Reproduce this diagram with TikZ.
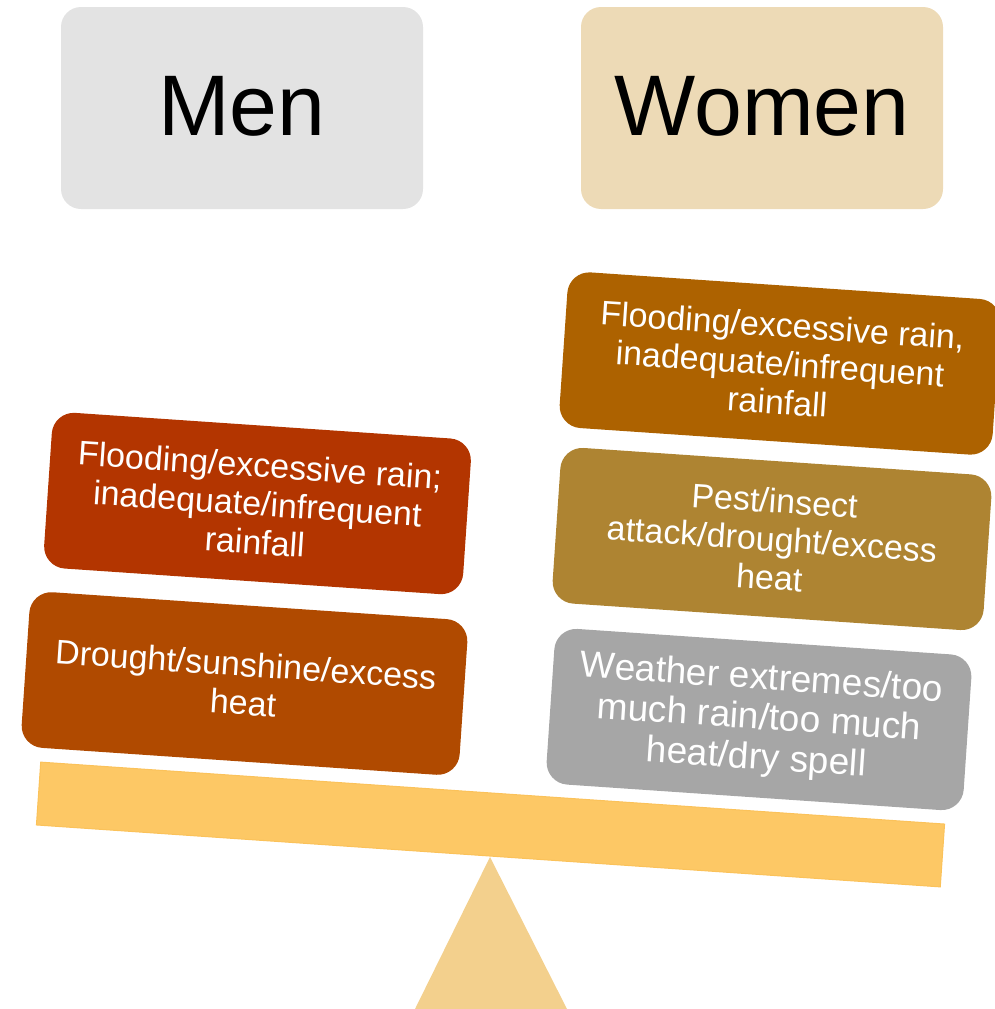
\documentclass[tikz,border=0pt]{standalone}
\usepackage{fontspec}
\setmainfont{Liberation Sans}
\definecolor{menbg}{HTML}{E3E3E3}
\definecolor{womenbg}{HTML}{EDDAB6}
\definecolor{cA}{HTML}{B33500}
\definecolor{cB}{HTML}{B04A00}
\definecolor{cC}{HTML}{AD6200}
\definecolor{cD}{HTML}{AE8432}
\definecolor{cE}{HTML}{A6A6A6}
\definecolor{beamfill}{HTML}{FDC865}
\definecolor{beamedge}{HTML}{FBC25A}
\definecolor{fulcrumfill}{HTML}{F3D08D}
\begin{document}
\begin{tikzpicture}[x=1pt,y=-1pt,
  headbox/.style={rounded corners=20pt, minimum width=362pt, minimum height=202pt, inner sep=0pt},
  headtext/.style={anchor=base, inner sep=0pt, font=\fontsize{86}{100}\selectfont},
  factor/.style={rounded corners=22pt, inner sep=0pt, rotate=-3.9, text=white, align=center,
                 minimum height=156pt, font=\fontsize{34}{38.5}\selectfont},
]
\useasboundingbox (0,0) rectangle (995,1009);

% headings
\node[headbox, fill=menbg] (men) at (242,108) {};
\node[headtext] (menlabel) at (242,135) {Men};
\node[headbox, fill=womenbg] (women) at (762,108) {};
\node[headtext] (womenlabel) at (762,135) {Women};

% men factors
\node[factor, fill=cA, minimum width=420pt] (m1) at (257.5,503.5)
  {Flooding/excessive rain;\\inadequate/infrequent\\rainfall};
\node[factor, fill=cB, minimum width=439pt] (m2) at (244.5,683.5)
  {Drought/sunshine/excess\\heat};

% women factors
\node[factor, fill=cC, minimum width=434pt] (w1) at (780,363.5)
  {Flooding/excessive rain,\\inadequate/infrequent\\rainfall};
\node[factor, fill=cD, minimum width=432pt] (w2) at (772,539)
  {Pest/insect\\attack/drought/excess\\heat};
\node[factor, fill=cE, minimum width=418pt, font=\fontsize{37}{40}\selectfont] (w3) at (759,719.5)
  {Weather extremes/too\\much rain/too much\\heat/dry spell};

% fulcrum and beam
\path[fill=fulcrumfill] (490,857) -- (415,1009) -- (567,1009) -- cycle;
\node[fill=beamfill, draw=beamedge, line width=1pt, minimum width=906pt, minimum height=63pt,
      inner sep=0pt, rotate=-3.92] (beam) at (490.5,824.5) {};
\end{tikzpicture}
\end{document}
